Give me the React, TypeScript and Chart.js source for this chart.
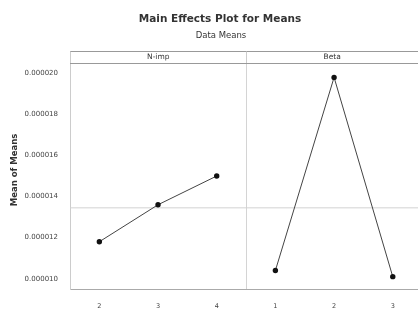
import React, { useEffect, useRef } from "react";
import { Chart, registerables } from "chart.js";

Chart.register(...registerables);

const factorNames = ["N-imp", "Beta"];
const nImpLevels = ["2", "3", "4"];
const betaLevels = ["1", "2", "3"];
const nImpMeans = [0.0000118, 0.0000136, 0.000015];
const betaMeans = [0.0000104, 0.0000198, 0.0000101];
const yTickValues = [0.00001, 0.000012, 0.000014, 0.000016, 0.000018, 0.00002];

const allLevels = [...nImpLevels, ...betaLevels];
const grandMean =
  [...nImpMeans, ...betaMeans].reduce((a, b) => a + b, 0) / (nImpMeans.length + betaMeans.length);

const FONT = "'DejaVu Sans', sans-serif";
const X_MIN = -0.5;
const X_MAX = allLevels.length - 0.57;

const decorPlugin = {
  id: "decor",
  beforeDatasetsDraw(chart: any) {
    const { ctx, chartArea } = chart;
    const xs = chart.scales.x;
    const sepX = Math.round(xs.getPixelForValue(nImpLevels.length - 0.5)) + 0.5;
    ctx.save();
    ctx.strokeStyle = "#d4d4d4";
    ctx.lineWidth = 1;
    ctx.beginPath();
    ctx.moveTo(sepX, chartArea.top);
    ctx.lineTo(sepX, chartArea.bottom);
    ctx.stroke();
    ctx.restore();
  },
  afterDraw(chart: any) {
    const { ctx, chartArea } = chart;
    const xs = chart.scales.x;
    const sepX = Math.round(xs.getPixelForValue(nImpLevels.length - 0.5)) + 0.5;
    const right = 418;
    ctx.save();
    // titles
    ctx.fillStyle = "#333";
    ctx.textAlign = "center";
    ctx.textBaseline = "middle";
    ctx.font = `bold 10.5px ${FONT}`;
    ctx.fillText("Main Effects Plot for Means", 220, 19);
    ctx.font = `8.5px ${FONT}`;
    ctx.fillText("Data Means", 221, 36);
    // header strip
    const top = chartArea.top - 11.5;
    ctx.strokeStyle = "#999";
    ctx.lineWidth = 1;
    ctx.beginPath();
    ctx.moveTo(chartArea.left, top);
    ctx.lineTo(right, top);
    ctx.moveTo(chartArea.left, chartArea.top + 0.5);
    ctx.lineTo(right, chartArea.top + 0.5);
    ctx.stroke();
    ctx.strokeStyle = "#ccc";
    ctx.beginPath();
    ctx.moveTo(chartArea.left + 0.5, top);
    ctx.lineTo(chartArea.left + 0.5, chartArea.top);
    ctx.moveTo(sepX, top);
    ctx.lineTo(sepX, chartArea.top);
    ctx.stroke();
    ctx.fillStyle = "#333";
    ctx.font = `7.5px ${FONT}`;
    ctx.fillText(factorNames[0], (chartArea.left + sepX) / 2, top + 6);
    ctx.fillText(factorNames[1], (sepX + right) / 2, top + 6);
    // y title
    ctx.translate(15, (chartArea.top + chartArea.bottom) / 2 - 6);
    ctx.rotate(-Math.PI / 2);
    ctx.font = `bold 8.5px ${FONT}`;
    ctx.fillText("Mean of Means", 0, 0);
    ctx.restore();
  },
};

export default function App() {
  const ref = useRef<HTMLCanvasElement>(null);
  useEffect(() => {
    document.body.style.margin = "0";
    const chart = new Chart(ref.current!, {
      type: "line",
      data: {
        datasets: [
          {
            data: nImpMeans.map((v, i) => ({ x: i, y: v })),
            borderColor: "#444",
            backgroundColor: "#111",
            borderWidth: 1,
            pointRadius: 2.7,
            pointBorderWidth: 0,
          },
          {
            data: betaMeans.map((v, i) => ({ x: i + nImpLevels.length, y: v })),
            borderColor: "#444",
            backgroundColor: "#111",
            borderWidth: 1,
            pointRadius: 2.7,
            pointBorderWidth: 0,
          },
          {
            data: [
              { x: X_MIN, y: grandMean },
              { x: X_MAX, y: grandMean },
            ],
            borderColor: "#d2d2d2",
            borderWidth: 1,
            pointRadius: 0,
          },
        ],
      },
      options: {
        animation: false,
        responsive: false,
        layout: { padding: { top: 63, right: 0, bottom: 0, left: 0 } },
        plugins: { legend: { display: false }, tooltip: { enabled: false } },
        scales: {
          x: {
            type: "linear",
            min: X_MIN,
            max: X_MAX,
            grid: { display: false },
            border: { color: "#aaa" },
            afterBuildTicks: (axis: any) => {
              axis.ticks = allLevels.map((_, i) => ({ value: i }));
            },
            afterFit: (axis: any) => {
              axis.height = 24;
              axis.paddingLeft = 0;
              axis.paddingRight = 0;
            },
            ticks: {
              autoSkip: false,
              maxRotation: 0,
              padding: 5,
              color: "#444",
              font: { family: FONT, size: 6.5 },
              callback: (v: any) => allLevels[v as number],
            },
          },
          y: {
            type: "linear",
            min: 0.0000095,
            max: 0.0000205,
            grid: { display: false },
            border: { color: "#ccc" },
            afterBuildTicks: (axis: any) => {
              axis.ticks = yTickValues.map((v) => ({ value: v }));
            },
            afterFit: (axis: any) => {
              axis.width = 70;
              axis.paddingTop = 0;
              axis.paddingBottom = 0;
            },
            ticks: {
              padding: 4,
              color: "#444",
              font: { family: FONT, size: 7 },
              callback: (v: any) => Number(v).toFixed(6),
            },
          },
        },
      },
      plugins: [decorPlugin],
    });
    return () => chart.destroy();
  }, []);
  return (
    <div style={{ width: 418, height: 313, background: "#fff", overflow: "hidden" }}>
      <canvas ref={ref} width={422} height={313} style={{ display: "block" }} />
    </div>
  );
}
